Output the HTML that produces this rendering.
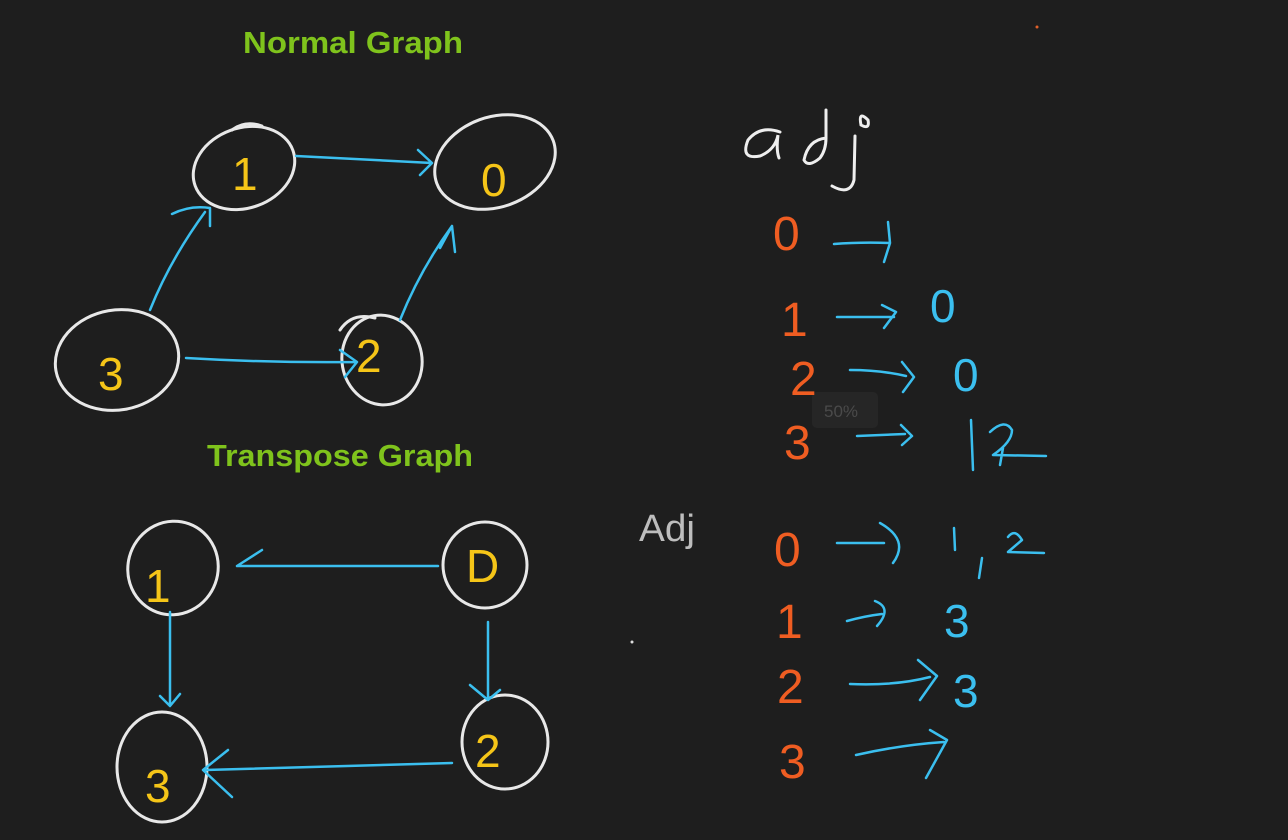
<!DOCTYPE html>
<html><head><meta charset="utf-8"><style>
html,body{margin:0;padding:0;background:#1e1e1e;}
svg{display:block;}
text{font-family:"Liberation Sans","DejaVu Sans",sans-serif;}
</style></head><body>
<svg width="1288" height="840" viewBox="0 0 1288 840" xmlns="http://www.w3.org/2000/svg">
<rect width="1288" height="840" fill="#1e1e1e"/>
<g fill="#7fc31c" font-size="31" font-weight="bold">
<text x="243" y="53" textLength="220" lengthAdjust="spacingAndGlyphs">Normal Graph</text>
<text x="207" y="466" textLength="266" lengthAdjust="spacingAndGlyphs">Transpose Graph</text>
</g>
<text x="639" y="541" fill="#bdbdbd" font-size="38" textLength="56" lengthAdjust="spacingAndGlyphs">Adj</text>
<rect x="812" y="392" width="66" height="36" rx="5" fill="#262626"/>
<text x="824" y="417" fill="#4a4a4a" font-size="17">50%</text>
<circle cx="1037" cy="27" r="1.5" fill="#e0602a"/>
<circle cx="632" cy="642" r="1.5" fill="#ddd"/>

<g fill="none" stroke="#e8e8e8" stroke-width="3" stroke-linecap="round">
<ellipse cx="244" cy="168" rx="52" ry="40" transform="rotate(-20 244 168)"/>
<path d="M232 130 Q245 120 262 126"/>
<ellipse cx="495" cy="162" rx="62" ry="45" transform="rotate(-20 495 162)"/>
<ellipse cx="117" cy="360" rx="62" ry="50" transform="rotate(-10 117 360)"/>
<ellipse cx="382" cy="360" rx="40" ry="45" transform="rotate(-10 382 360)"/>
<path d="M340 330 Q352 312 375 318"/>
<ellipse cx="173" cy="568" rx="45" ry="47" transform="rotate(20 173 568)"/>
<ellipse cx="485" cy="565" rx="42" ry="43"/>
<ellipse cx="162" cy="767" rx="45" ry="55"/>
<ellipse cx="505" cy="742" rx="43" ry="47"/>
</g>
<g fill="#f5c518" font-size="46">
<text x="232" y="190">1</text>
<text x="481" y="196">0</text>
<text x="98" y="390">3</text>
<text x="356" y="372">2</text>
<text x="145" y="602">1</text>
<text x="466" y="582">D</text>
<text x="145" y="802">3</text>
<text x="475" y="767">2</text>
</g>
<g fill="none" stroke="#3bbfef" stroke-width="2.5" stroke-linecap="round" stroke-linejoin="round">
<path d="M296 156 L432 163 M418 150 L432 163 L420 175"/>
<path d="M150 310 Q170 260 205 212 M172 214 Q190 205 210 208 L210 226"/>
<path d="M186 358 Q270 363 355 362 M340 350 L357 362 L345 377"/>
<path d="M400 320 Q420 270 452 226 M440 248 L452 226 L455 252"/>
<path d="M438 566 L237 566 M262 550 L237 566"/>
<path d="M170 612 L170 703 M160 696 L170 706 L180 694"/>
<path d="M488 622 L488 700 M470 685 L488 700 L500 690"/>
<path d="M452 763 L205 770 M228 750 L203 770 L232 797"/>
<path d="M834 244 Q860 242 890 243 M888 222 L890 243 L884 262"/>
<path d="M837 317 L894 317 M882 305 L896 312 L884 328"/>
<path d="M850 370 Q880 370 906 376 M902 362 L914 377 L903 392"/>
<path d="M857 436 L905 434 M901 425 L912 436 L902 445"/>
<path d="M971 420 L973 470 M1003 448 L1000 465 M990 432 Q1005 418 1012 430 Q1012 442 993 455 L1046 456"/>
<path d="M837 543 L884 543 M880 523 Q910 540 893 563"/>
<path d="M847 621 Q865 616 882 614 M875 601 Q893 608 877 626"/>
<path d="M850 684 Q895 686 930 677 M918 660 L937 676 L920 700"/>
<path d="M856 755 Q900 745 944 742 M930 730 L947 740 L926 778"/>
<path d="M954 528 L955 550 M982 558 L979 578 M1008 537 Q1015 528 1022 540 L1008 552 L1044 553"/>
</g>
<g fill="#ef5d22" font-size="48">
<text x="773" y="250">0</text>
<text x="781" y="336">1</text>
<text x="790" y="395">2</text>
<text x="784" y="459">3</text>
<text x="774" y="566">0</text>
<text x="776" y="638">1</text>
<text x="777" y="703">2</text>
<text x="779" y="778">3</text>
</g>
<g fill="#3bbfef" font-size="46">
<text x="930" y="322">0</text>
<text x="953" y="391">0</text>
<text x="944" y="637">3</text>
<text x="953" y="707">3</text>
</g>
<g fill="none" stroke="#eeeeee" stroke-width="3" stroke-linecap="round">
<path d="M780 132 Q760 125 748 140 Q740 160 760 156 Q775 150 778 135 Q776 150 779 158"/>
<path d="M826 138 Q808 140 804 160 Q808 168 820 158 Q826 150 826 138 L826 110"/>
<path d="M855 136 L854 180 Q850 196 832 186"/>
<path d="M868 120 Q858 110 861 125 Q870 130 868 120"/>
</g>
</svg>
</body></html>
